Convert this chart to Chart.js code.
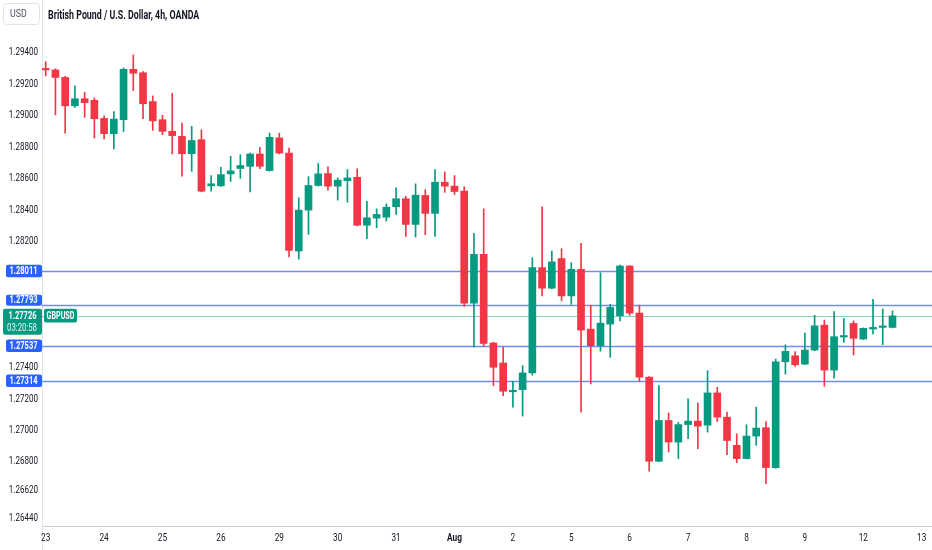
<!DOCTYPE html>
<html>
<head>
<meta charset="utf-8">
<script src="https://cdn.jsdelivr.net/npm/chart.js@4.4.1/dist/chart.umd.min.js"></script>
<style>
  html, body { margin: 0; padding: 0; background: #fff; }
  #wrap { position: relative; width: 932px; height: 550px; overflow: hidden; }
  #chart { position: absolute; left: 0; top: 0; }
  #usd {
    position: absolute; left: 3px; top: 3px; width: 37px; height: 22px;
    box-sizing: border-box; border: 1px solid #e0e3eb; border-radius: 4px;
    font: 11px Roboto, sans-serif; color: #50535e; line-height: 20px;
    padding-left: 6px; background: #fff;
  }
  #usd span { display: inline-block; transform: scaleX(0.8); transform-origin: left center; }
  #title {
    position: absolute; left: 48px; top: 8px; white-space: nowrap;
    font: bold 12px Roboto, sans-serif; color: #131722; transform-origin: left top;
  }
</style>
</head>
<body>
<div id="wrap">
  <canvas id="chart" width="932" height="550"></canvas>
  <div id="usd"><span>USD</span></div>
  <div id="title">British Pound / U.S. Dollar, 4h, OANDA</div>
</div>
<script>
// ================================
//   DATI (candele 4h GBPUSD)
// ================================
const dayLabels = ["23", "24", "25", "26", "29", "30", "31", "Aug", "2", "5", "6", "7", "8", "9", "12", "13"];
const dayTickIndex = [0, 6, 12, 18, 24, 30, 36, 42, 48, 54, 60, 66, 72, 78, 84, 90];

const openPrices = [
  1.29292, 1.29288, 1.29240, 1.29060, 1.29105, 1.29095, 1.28980, 1.28883, 1.28972, 1.29292,
  1.29270, 1.29087, 1.28972, 1.28898, 1.28866, 1.28756, 1.28845, 1.28552, 1.28552, 1.28628,
  1.28662, 1.28676, 1.28754, 1.28649, 1.28856, 1.28760, 1.28138, 1.28398, 1.28554, 1.28630,
  1.28550, 1.28585, 1.28606, 1.28302, 1.28347, 1.28353, 1.28419, 1.28470, 1.28307, 1.28491,
  1.28377, 1.28575, 1.28550, 1.28518, 1.27807, 1.28117, 1.27554, 1.27427, 1.27244, 1.27258,
  1.27364, 1.28033, 1.27902, 1.28090, 1.27853, 1.28022, 1.27642, 1.27537, 1.27674, 1.27727,
  1.28043, 1.27744, 1.27337, 1.26803, 1.27062, 1.26925, 1.27036, 1.27058, 1.27032, 1.27237,
  1.27083, 1.26904, 1.26820, 1.26963, 1.27016, 1.26763, 1.27435, 1.27473, 1.27420, 1.27509,
  1.27667, 1.27382, 1.27592, 1.27678, 1.27579, 1.27643, 1.27653, 1.27653
];
const highPrices = [
  1.29341, 1.29295, 1.29248, 1.29187, 1.29145, 1.29110, 1.28997, 1.29024, 1.29300, 1.29383,
  1.29277, 1.29123, 1.29000, 1.29140, 1.28950, 1.28930, 1.28908, 1.28617, 1.28670, 1.28739,
  1.28750, 1.28760, 1.28796, 1.28887, 1.28887, 1.28792, 1.28476, 1.28610, 1.28693, 1.28672,
  1.28602, 1.28655, 1.28660, 1.28454, 1.28406, 1.28438, 1.28540, 1.28486, 1.28565, 1.28528,
  1.28655, 1.28640, 1.28617, 1.28546, 1.28250, 1.28406, 1.27558, 1.27526, 1.27310, 1.27410,
  1.28096, 1.28419, 1.28138, 1.28153, 1.28064, 1.28187, 1.27794, 1.28000, 1.27800, 1.28048,
  1.28045, 1.27794, 1.27340, 1.27283, 1.27110, 1.27051, 1.27200, 1.27174, 1.27378, 1.27273,
  1.27115, 1.26978, 1.27035, 1.27147, 1.27055, 1.27452, 1.27543, 1.27500, 1.27617, 1.27730,
  1.27700, 1.27754, 1.27710, 1.27695, 1.27650, 1.27832, 1.27770, 1.27758
];
const lowPrices = [
  1.29250, 1.29002, 1.28887, 1.29050, 1.28987, 1.28856, 1.28850, 1.28786, 1.28897, 1.29157,
  1.28978, 1.28904, 1.28877, 1.28755, 1.28613, 1.28644, 1.28514, 1.28518, 1.28548, 1.28580,
  1.28600, 1.28514, 1.28661, 1.28645, 1.28755, 1.28100, 1.28086, 1.28244, 1.28550, 1.28524,
  1.28461, 1.28448, 1.28298, 1.28216, 1.28286, 1.28328, 1.28370, 1.28230, 1.28227, 1.28242,
  1.28230, 1.28511, 1.28497, 1.27786, 1.27527, 1.27533, 1.27283, 1.27220, 1.27147, 1.27090,
  1.27350, 1.27853, 1.27898, 1.27822, 1.27800, 1.27115, 1.27294, 1.27502, 1.27463, 1.27695,
  1.27730, 1.27310, 1.26740, 1.26800, 1.26862, 1.26820, 1.26946, 1.26883, 1.26988, 1.27056,
  1.26845, 1.26794, 1.26818, 1.26904, 1.26661, 1.26758, 1.27357, 1.27405, 1.27416, 1.27505,
  1.27280, 1.27330, 1.27558, 1.27478, 1.27576, 1.27611, 1.27543, 1.27650
];
const closePrices = [
  1.29288, 1.29240, 1.29060, 1.29105, 1.29080, 1.28978, 1.28883, 1.28976, 1.29292, 1.29267,
  1.29073, 1.28965, 1.28898, 1.28871, 1.28756, 1.28840, 1.28518, 1.28565, 1.28623, 1.28647,
  1.28681, 1.28754, 1.28676, 1.28860, 1.28760, 1.28142, 1.28398, 1.28554, 1.28628, 1.28550,
  1.28588, 1.28602, 1.28302, 1.28349, 1.28370, 1.28416, 1.28470, 1.28307, 1.28493, 1.28377,
  1.28575, 1.28550, 1.28516, 1.27807, 1.28117, 1.27552, 1.27400, 1.27248, 1.27252, 1.27364,
  1.28033, 1.27902, 1.28069, 1.27853, 1.28022, 1.27636, 1.27537, 1.27680, 1.27780, 1.28043,
  1.27744, 1.27337, 1.26803, 1.27062, 1.26925, 1.27036, 1.27058, 1.27026, 1.27237, 1.27083,
  1.26935, 1.26820, 1.26963, 1.27014, 1.26763, 1.27435, 1.27501, 1.27416, 1.27509, 1.27663,
  1.27382, 1.27594, 1.27598, 1.27584, 1.27647, 1.27653, 1.27656, 1.27726
];

const yTickValues = [1.2644, 1.2662, 1.268, 1.270, 1.272, 1.274, 1.282, 1.284, 1.286, 1.288, 1.290, 1.292, 1.294];
const levelLines = [1.28011, 1.27793, 1.27537, 1.27314];
const symbolName = "GBPUSD";
const countdown = "03:20:58";

// ================================
//   STILI
// ================================
const FONT = "Roboto, sans-serif";
const upColor = "#089981";
const downColor = "#f23645";
const levelColor = "#6f8ef2";
const badgeBlue = "#2962ff";
const textColor = "#131722";

// adatta il titolo alla larghezza dell'originale (testo stretto)
const titleEl = document.getElementById("title");
titleEl.style.transform = `scaleX(${151 / titleEl.offsetWidth})`;

const candleIdx = openPrices.map((_, i) => i);
const candleColors = candleIdx.map(i => closePrices[i] >= openPrices[i] ? upColor : downColor);

function badge(ctx, x, y, w, h, color, r) {
  ctx.fillStyle = color;
  ctx.beginPath();
  ctx.roundRect(x, y, w, h, r);
  ctx.fill();
}

// testo "condensato" come nello screenshot originale
function narrowText(ctx, text, x, y, font, color, sx, align) {
  ctx.save();
  ctx.translate(x, y);
  ctx.scale(sx, 1);
  ctx.font = font;
  ctx.fillStyle = color;
  ctx.textAlign = align || "center";
  ctx.textBaseline = "middle";
  ctx.fillText(text, 0, 0);
  ctx.restore();
}

// ================================
//   LINEE ORIZZONTALI + ETICHETTE
// ================================
const levelsPlugin = {
  id: "levels",
  beforeDatasetsDraw(chart) {
    const { ctx, chartArea: a, scales: { y } } = chart;
    ctx.save();
    const lastY = Math.round(y.getPixelForValue(closePrices[closePrices.length - 1])) + 0.5;
    ctx.strokeStyle = "rgba(8,153,129,0.45)";
    ctx.lineWidth = 1;
    ctx.beginPath();
    ctx.moveTo(a.left, lastY);
    ctx.lineTo(a.right, lastY);
    ctx.stroke();

    ctx.strokeStyle = levelColor;
    ctx.lineWidth = 1.3;
    levelLines.forEach(v => {
      const py = Math.round(y.getPixelForValue(v)) + 0.5;
      ctx.beginPath();
      ctx.moveTo(a.left, py);
      ctx.lineTo(a.right, py);
      ctx.stroke();
    });
    ctx.restore();
  },
  afterDraw(chart) {
    const { ctx, chartArea: a, scales: { x, y } } = chart;
    ctx.save();
    // prolunga l'asse sinistro sotto l'area
    ctx.strokeStyle = "#e0e3eb";
    ctx.lineWidth = 1;
    ctx.beginPath();
    ctx.moveTo(a.left + 0.5, a.bottom);
    ctx.lineTo(a.left + 0.5, chart.height);
    ctx.stroke();
    ctx.restore();

    // etichette asse prezzi
    y.ticks.forEach(t => {
      narrowText(ctx, t.value.toFixed(5), 38, y.getPixelForValue(t.value), `11px ${FONT}`, textColor, 0.73, "right");
    });
    // etichette asse tempo
    x.ticks.forEach((t, k) => {
      const bold = dayLabels[k] === "Aug";
      narrowText(ctx, dayLabels[k], x.getPixelForValue(t.value), a.bottom + 12,
        `${bold ? "bold " : ""}11px ${FONT}`, textColor, 0.75, "center");
    });

    const last = closePrices[closePrices.length - 1];
    const lastY = y.getPixelForValue(last);
    const gTop = lastY - 7.2;
    const gH = 26;

    levelLines.forEach(v => {
      const py = y.getPixelForValue(v);
      let h = 12.5;
      let top = py - h / 2;
      if (top + h > gTop - 1 && top < gTop + gH + 1) {
        if (py < lastY) { h = 11; top = gTop - 3 - h; }
        else { top = gTop + gH + 3; }
      }
      badge(ctx, 6, top, 36, h, badgeBlue, 2);
      narrowText(ctx, v.toFixed(5), 23.5, top + h / 2 + 0.5, `bold 11px ${FONT}`, "#fff", 0.68);
    });

    badge(ctx, 3, gTop, 39, gH, upColor, 2);
    narrowText(ctx, last.toFixed(5), 22.5, lastY + 0.3, `bold 11px ${FONT}`, "#fff", 0.68);
    narrowText(ctx, countdown, 22, lastY + 12.8, `10.5px ${FONT}`, "rgba(255,255,255,0.92)", 0.74);

    badge(ctx, 44, gTop, 33, 13.7, upColor, 2);
    narrowText(ctx, symbolName, 60.5, gTop + 7.2, `bold 10.5px ${FONT}`, "#fff", 0.68);
  }
};

// ================================
//   GRAFICO A CANDELE (barre flottanti)
// ================================
const chart = new Chart(document.getElementById("chart"), {
  type: "bar",
  data: {
    datasets: [
      {
        label: "corpo",
        data: candleIdx.map(i => ({ x: i, y: [openPrices[i], closePrices[i]] })),
        backgroundColor: candleColors,
        barThickness: 7,
        minBarLength: 1.5,
        grouped: false
      },
      {
        label: "ombra",
        data: candleIdx.map(i => ({ x: i, y: [lowPrices[i], highPrices[i]] })),
        backgroundColor: candleColors,
        barThickness: 1,
        grouped: false
      }
    ]
  },
  options: {
    responsive: false,
    animation: false,
    layout: { padding: 0 },
    plugins: { legend: { display: false }, tooltip: { enabled: false } },
    scales: {
      x: {
        type: "linear",
        min: -0.38,
        max: 91.06,
        offset: false,
        grid: { display: false, drawTicks: false },
        border: { display: true, color: "#c9ccd4" },
        afterBuildTicks: s => { s.ticks = dayTickIndex.map(v => ({ value: v })); },
        afterFit: s => { s.height = 24; },
        ticks: { display: false, autoSkip: false }
      },
      y: {
        type: "linear",
        position: "left",
        min: 1.26392,
        max: 1.29732,
        grid: { display: false, drawTicks: false },
        border: { display: true, color: "#e0e3eb" },
        afterBuildTicks: s => { s.ticks = yTickValues.map(v => ({ value: v })); },
        afterFit: s => { s.width = 42; },
        ticks: { display: false }
      }
    }
  },
  plugins: [levelsPlugin]
});
</script>
</body>
</html>
